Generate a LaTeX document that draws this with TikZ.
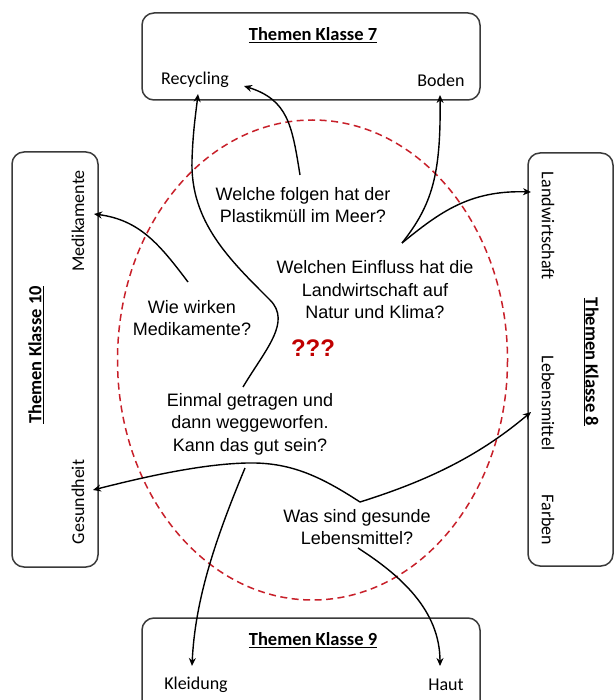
\documentclass[tikz,border=0pt]{standalone}
\usepackage{fontspec}
\setmainfont{Liberation Sans}
\newfontfamily\calfont{Carlito}
\usetikzlibrary{arrows.meta}
\definecolor{dashred}{HTML}{C8202A}
\definecolor{qred}{HTML}{C00000}
\definecolor{boxgray}{HTML}{3A3A3A}
\begin{document}
\begin{tikzpicture}[x=1pt,y=-1pt,
  box/.style={draw=boxgray, line width=1.5pt, rounded corners=12pt},
  topic/.style={font=\calfont\fontsize{18}{20}\selectfont, inner sep=0pt},
  boxtitle/.style={font=\calfont\bfseries\fontsize{18.5}{20}\selectfont, inner sep=0pt},
  question/.style={font=\fontsize{18}{22.5}\selectfont, align=center, inner sep=0pt},
  conn/.style={line width=1.4pt, -{Stealth[length=8pt,width=7pt]}},
  ]
\clip (0,0) rectangle (615,700);
\fill[white] (0,0) rectangle (615,700);

% boxes
\draw[box] (142,13) rectangle (480,100);
\draw[box] (12,152) rectangle (98,567);
\draw[box] (528,153) rectangle (613,566);
\draw[box] (142,618) rectangle (480,730);

% ellipse
\draw[dashred, line width=1.5pt, dash pattern=on 7pt off 4.5pt] (312.5,360) ellipse [x radius=195, y radius=240];

% box titles and topics
\node[boxtitle] (t7) at (313,35) {\underline{Themen Klasse 7}};
\node[topic] (recycling) at (195,80) {Recycling};
\node[topic] (boden) at (441,80) {Boden};

\node[boxtitle, rotate=90] (t10) at (36,355) {\underline{Themen Klasse 10}};
\node[topic, rotate=90] (medi) at (78,221) {Medikamente};
\node[topic, rotate=90] (gesund) at (78,502) {Gesundheit};

\node[boxtitle, rotate=-90] (t8) at (591,362) {\underline{Themen Klasse 8}};
\node[topic, rotate=-90] (landw) at (548,226) {Landwirtschaft};
\node[topic, rotate=-90] (lebens) at (548,403) {Lebensmittel};
\node[topic, rotate=-90] (farben) at (548,520) {Farben};

\node[boxtitle] (t9) at (313,640) {\underline{Themen Klasse 9}};
\node[topic] (kleidung) at (196,685) {Kleidung};
\node[topic] (haut) at (446,685) {Haut};

% questions
\node[question] (q1) at (303,205) {Welche folgen hat der\\Plastikmüll im Meer?};
\node[question] (q2) at (375,290) {Welchen Einfluss hat die\\Landwirtschaft auf\\Natur und Klima?};
\node[question] (q3) at (192,318) {Wie wirken\\Medikamente?};
\node[font=\bfseries\fontsize{24}{28}\selectfont, text=qred, inner sep=0pt] (qqq) at (313,348) {???};
\node[question] (q4) at (250,424) {Einmal getragen und\\dann weggeworfen.\\Kann das gut sein?};
\node[question] (q5) at (357,527) {Was sind gesunde\\Lebensmittel?};

% connector ends
\coordinate (s1) at (300,175);
\coordinate (s2) at (402,243);
\coordinate (s3) at (188,282);
\coordinate (s4a) at (243,387);
\coordinate (s4b) at (245,468);
\coordinate (s5a) at (360,502);
\coordinate (s5b) at (358,548);
\coordinate (eRec1) at (244,86);
\coordinate (eRec2) at (198,94);
\coordinate (eBoden) at (440,95);
\coordinate (eLandw) at (531,192);
\coordinate (eMedi) at (94,214);
\coordinate (eGes) at (93,490);
\coordinate (eLeb) at (531,412);
\coordinate (eKleid) at (192,666);
\coordinate (eHaut) at (440,666);

% connectors
\draw[conn] (s1) .. controls (292,125) and (288,100) .. (eRec1);
\draw[conn] (s4a) .. controls (265,350) and (292,322) .. (270,300)
  .. controls (230,260) and (190,222) .. (192,160)
  .. controls (193,130) and (196,112) .. (eRec2);
\draw[conn] (s2) .. controls (432,205) and (441,175) .. (eBoden);
\draw[conn] (s2) .. controls (440,212) and (470,190) .. (eLandw);
\draw[conn] (s3) .. controls (160,245) and (140,220) .. (eMedi);
\draw[conn] (s5a) .. controls (320,476) and (290,462) .. (247,463)
  .. controls (200,464) and (140,478) .. (eGes);
\draw[conn] (s5a) .. controls (430,480) and (480,455) .. (eLeb);
\draw[conn] (s4b) .. controls (215,540) and (195,600) .. (eKleid);
\draw[conn] (s5b) .. controls (400,575) and (440,610) .. (eHaut);
\end{tikzpicture}
\end{document}
